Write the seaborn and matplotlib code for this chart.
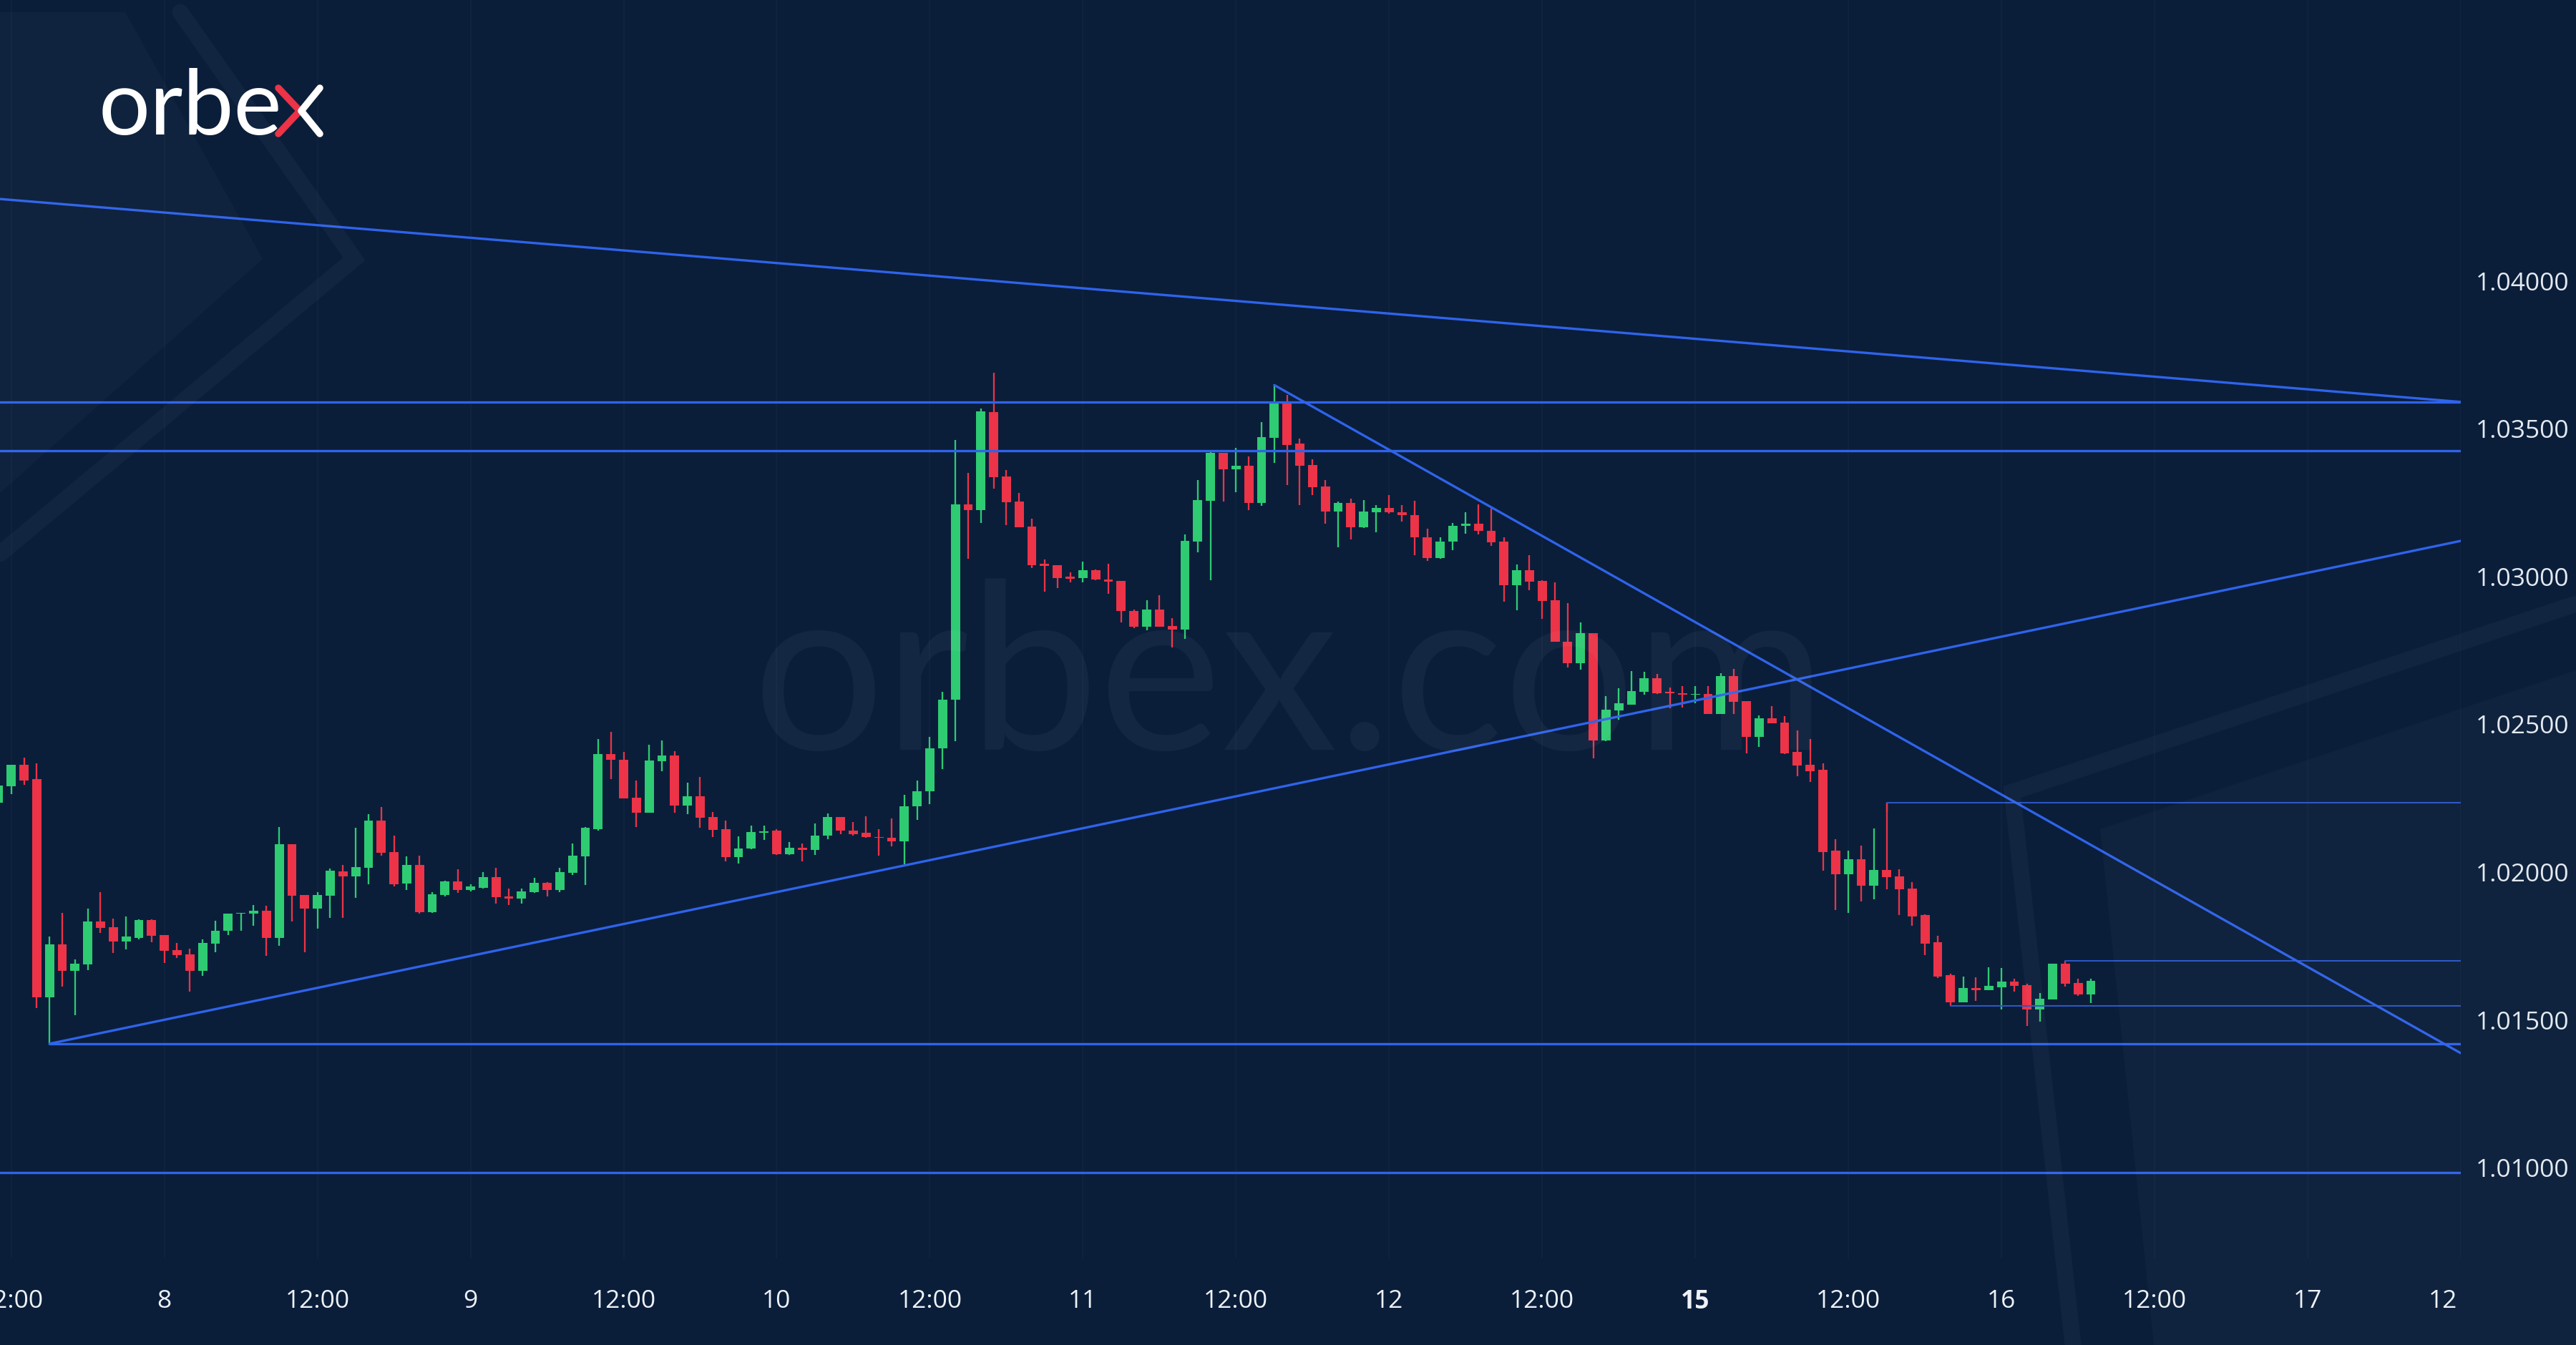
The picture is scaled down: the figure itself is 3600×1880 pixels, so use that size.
import numpy as np
import pandas as pd
import matplotlib
matplotlib.use('Agg')
import matplotlib.pyplot as plt
from matplotlib.patches import Polygon
from matplotlib.lines import Line2D
from matplotlib.ticker import FormatStrFormatter
from matplotlib.transforms import Bbox, TransformedBbox
import seaborn as sns

# hourly candles, hour 0 = day 8 00:00 (weekend skipped)
hours = list(range(-13, 152))
opens = [
    1.02232, 1.02288, 1.02361, 1.02312, 1.01574, 1.01752, 1.01663, 1.01685, 1.01830, 1.01812,
    1.01764, 1.01776, 1.01836, 1.01784, 1.01733, 1.01719, 1.01663, 1.01756, 1.01798, 1.01857,
    1.01856, 1.01866, 1.01776, 1.02093, 1.01919, 1.01874, 1.01917, 1.02000, 1.01984, 1.02012,
    1.02173, 1.02065, 1.01959, 1.02022, 1.01862, 1.01919, 1.01965, 1.01937, 1.01944, 1.01980,
    1.01915, 1.01909, 1.01931, 1.01961, 1.01937, 1.01994, 1.02050, 1.02143, 1.02397, 1.02378,
    1.02250, 1.02198, 1.02373, 1.02393, 1.02223, 1.02253, 1.02183, 1.02143, 1.02048, 1.02077,
    1.02131, 1.02137, 1.02059, 1.02079, 1.02073, 1.02120, 1.02183, 1.02139, 1.02131, 1.02117,
    1.02114, 1.02102, 1.02220, 1.02270, 1.02417, 1.02580, 1.03242, 1.03223, 1.03553, 1.03335,
    1.03250, 1.03167, 1.03040, 1.03036, 1.02996, 1.02993, 1.03020, 1.02988, 1.02982, 1.02882,
    1.02828, 1.02885, 1.02831, 1.02819, 1.03115, 1.03254, 1.03415, 1.03361, 1.03371, 1.03246,
    1.03467, 1.03591, 1.03446, 1.03375, 1.03303, 1.03217, 1.03246, 1.03163, 1.03214, 1.03230,
    1.03216, 1.03206, 1.03131, 1.03061, 1.03116, 1.03169, 1.03177, 1.03153, 1.03115, 1.02968,
    1.03020, 1.02982, 1.02917, 1.02778, 1.02705, 1.02806, 1.02444, 1.02545, 1.02565, 1.02607,
    1.02653, 1.02607, 1.02603, 1.02597, 1.02599, 1.02532, 1.02661, 1.02576, 1.02455, 1.02518,
    1.02504, 1.02403, 1.02361, 1.02343, 1.02069, 1.01990, 1.02040, 1.01951, 1.02006, 1.01984,
    1.01941, 1.01852, 1.01760, 1.01649, 1.01558, 1.01605, 1.01598, 1.01609, 1.01627, 1.01616,
    1.01534, 1.01566, 1.01687, 1.01622, 1.01584,
]
highs = [
    1.02319, 1.02361, 1.02385, 1.02365, 1.01780, 1.01859, 1.01703, 1.01873, 1.01929, 1.01840,
    1.01848, 1.01838, 1.01838, 1.01785, 1.01757, 1.01739, 1.01770, 1.01832, 1.01858, 1.01859,
    1.01887, 1.01885, 1.02151, 1.02093, 1.01919, 1.01929, 1.02010, 1.02022, 1.02147, 1.02194,
    1.02218, 1.02121, 1.02050, 1.02054, 1.01929, 1.01969, 1.02008, 1.01957, 1.01998, 1.02012,
    1.01941, 1.01941, 1.01977, 1.01963, 1.02012, 1.02094, 1.02151, 1.02447, 1.02472, 1.02405,
    1.02308, 1.02429, 1.02444, 1.02407, 1.02300, 1.02319, 1.02201, 1.02171, 1.02119, 1.02155,
    1.02154, 1.02143, 1.02099, 1.02094, 1.02162, 1.02195, 1.02183, 1.02166, 1.02187, 1.02143,
    1.02180, 1.02258, 1.02307, 1.02455, 1.02608, 1.03460, 1.03349, 1.03566, 1.03686, 1.03358,
    1.03280, 1.03193, 1.03055, 1.03036, 1.03011, 1.03049, 1.03022, 1.03040, 1.02982, 1.02885,
    1.02917, 1.02935, 1.02857, 1.03139, 1.03323, 1.03417, 1.03415, 1.03432, 1.03403, 1.03521,
    1.03645, 1.03611, 1.03463, 1.03395, 1.03323, 1.03250, 1.03262, 1.03256, 1.03240, 1.03274,
    1.03238, 1.03254, 1.03159, 1.03131, 1.03178, 1.03216, 1.03242, 1.03228, 1.03130, 1.03038,
    1.03070, 1.02986, 1.02978, 1.02907, 1.02843, 1.02806, 1.02593, 1.02619, 1.02678, 1.02675,
    1.02667, 1.02621, 1.02628, 1.02628, 1.02628, 1.02671, 1.02686, 1.02576, 1.02528, 1.02558,
    1.02526, 1.02476, 1.02447, 1.02365, 1.02110, 1.02069, 1.02086, 1.02144, 1.02232, 1.02008,
    1.01963, 1.01854, 1.01782, 1.01655, 1.01645, 1.01641, 1.01676, 1.01673, 1.01637, 1.01621,
    1.01588, 1.01687, 1.01697, 1.01636, 1.01636,
]
lows = [
    1.02223, 1.02262, 1.02292, 1.01538, 1.01417, 1.01610, 1.01514, 1.01667, 1.01792, 1.01723,
    1.01735, 1.01769, 1.01760, 1.01691, 1.01707, 1.01594, 1.01647, 1.01727, 1.01784, 1.01800,
    1.01816, 1.01714, 1.01749, 1.01831, 1.01727, 1.01806, 1.01842, 1.01842, 1.01910, 1.01956,
    1.02054, 1.01949, 1.01937, 1.01856, 1.01860, 1.01915, 1.01927, 1.01933, 1.01943, 1.01891,
    1.01887, 1.01891, 1.01928, 1.01915, 1.01931, 1.01988, 1.01955, 1.02137, 1.02312, 1.02248,
    1.02151, 1.02198, 1.02340, 1.02198, 1.02194, 1.02148, 1.02116, 1.02034, 1.02026, 1.02074,
    1.02106, 1.02056, 1.02055, 1.02033, 1.02056, 1.02110, 1.02127, 1.02120, 1.02114, 1.02053,
    1.02085, 1.02025, 1.02175, 1.02227, 1.02345, 1.02441, 1.03057, 1.03179, 1.03294, 1.03171,
    1.03165, 1.03026, 1.02947, 1.02959, 1.02978, 1.02978, 1.02984, 1.02938, 1.02841, 1.02822,
    1.02815, 1.02828, 1.02757, 1.02786, 1.03079, 1.02985, 1.03250, 1.03282, 1.03221, 1.03236,
    1.03383, 1.03307, 1.03240, 1.03272, 1.03175, 1.03096, 1.03123, 1.03161, 1.03146, 1.03210,
    1.03183, 1.03069, 1.03050, 1.03057, 1.03087, 1.03143, 1.03141, 1.03101, 1.02912, 1.02883,
    1.02951, 1.02854, 1.02776, 1.02690, 1.02683, 1.02383, 1.02441, 1.02512, 1.02565, 1.02597,
    1.02600, 1.02552, 1.02554, 1.02569, 1.02532, 1.02532, 1.02532, 1.02399, 1.02421, 1.02500,
    1.02397, 1.02323, 1.02303, 1.02002, 1.01870, 1.01859, 1.01898, 1.01905, 1.01939, 1.01852,
    1.01816, 1.01717, 1.01639, 1.01546, 1.01558, 1.01562, 1.01598, 1.01534, 1.01594, 1.01477,
    1.01491, 1.01566, 1.01610, 1.01578, 1.01554,
]
closes = [
    1.02290, 1.02361, 1.02308, 1.01574, 1.01752, 1.01663, 1.01687, 1.01830, 1.01810, 1.01764,
    1.01780, 1.01836, 1.01781, 1.01731, 1.01717, 1.01663, 1.01758, 1.01800, 1.01858, 1.01859,
    1.01866, 1.01776, 1.02093, 1.01917, 1.01874, 1.01919, 1.02002, 1.01984, 1.02015, 1.02173,
    1.02064, 1.01957, 1.02022, 1.01862, 1.01923, 1.01965, 1.01937, 1.01948, 1.01980, 1.01912,
    1.01909, 1.01933, 1.01961, 1.01937, 1.01998, 1.02054, 1.02147, 1.02397, 1.02377, 1.02248,
    1.02198, 1.02375, 1.02393, 1.02223, 1.02253, 1.02181, 1.02140, 1.02048, 1.02078, 1.02132,
    1.02136, 1.02059, 1.02079, 1.02073, 1.02122, 1.02183, 1.02137, 1.02127, 1.02117, 1.02113,
    1.02102, 1.02221, 1.02272, 1.02417, 1.02582, 1.03242, 1.03223, 1.03555, 1.03333, 1.03248,
    1.03165, 1.03037, 1.03034, 1.02993, 1.02991, 1.03020, 1.02988, 1.02981, 1.02880, 1.02828,
    1.02885, 1.02828, 1.02819, 1.03117, 1.03256, 1.03415, 1.03361, 1.03371, 1.03246, 1.03470,
    1.03591, 1.03443, 1.03371, 1.03300, 1.03217, 1.03246, 1.03163, 1.03217, 1.03230, 1.03214,
    1.03204, 1.03129, 1.03061, 1.03116, 1.03170, 1.03177, 1.03151, 1.03113, 1.02968, 1.03020,
    1.02979, 1.02915, 1.02776, 1.02705, 1.02806, 1.02444, 1.02546, 1.02569, 1.02611, 1.02653,
    1.02603, 1.02603, 1.02598, 1.02599, 1.02532, 1.02661, 1.02573, 1.02455, 1.02518, 1.02502,
    1.02399, 1.02358, 1.02340, 1.02066, 1.01990, 1.02040, 1.01951, 1.02006, 1.01981, 1.01939,
    1.01848, 1.01756, 1.01644, 1.01558, 1.01605, 1.01598, 1.01612, 1.01627, 1.01613, 1.01534,
    1.01570, 1.01687, 1.01620, 1.01584, 1.01629,
]

# drawn levels and trend lines (hour, price)
full_levels = [1.03588, 1.03422, 1.00982]
support_start, support_level = -9, 1.01417
short_levels = [(135, 1.02232), (140, 1.01546), (149, 1.01697)]
upper_trend_hours, upper_trend_prices = [-13, 180], [1.04275, 1.03588]
rising_trend_hours, rising_trend_prices = [-9, 180], [1.01417, 1.03118]
falling_trend_hours, falling_trend_prices = [87, 180], [1.03645, 1.01385]

tick_hours = [-12, 0, 12, 24, 36, 48, 60, 72, 84, 96, 108, 120, 132, 144, 156, 168, 180]
tick_labels = ['12:00', '8', '12:00', '9', '12:00', '10', '12:00', '11', '12:00', '12',
               '12:00', '15', '12:00', '16', '12:00', '17', '12:00']
price_ticks = [1.010, 1.015, 1.020, 1.025, 1.030, 1.035, 1.040]

BG = '#0a1e3a'
UP = '#2ecb72'
DOWN = '#ec3347'
LINE = '#2f63ea'
THIN = '#2b55c4'

sns.set_theme(style='dark', rc={'axes.facecolor': BG, 'figure.facecolor': BG,
                                'savefig.facecolor': BG})
plt.rcParams['font.family'] = ['Open Sans', 'DejaVu Sans']

df = pd.DataFrame({'hour': hours, 'open': opens, 'high': highs, 'low': lows, 'close': closes})
df['up'] = df['close'] >= df['open']
df['color'] = np.where(df['up'], UP, DOWN)
df['bottom'] = df[['open', 'close']].min(axis=1)
df['height'] = (df['close'] - df['open']).abs().clip(lower=0.000025)

W, H = 3600, 1881
fig = plt.figure(figsize=(12, 6.27), dpi=300)


def fpt(x, y):
    return (x / W, 1 - y / H)


# background decoration
deco = [
    [(0, 18), (175, 18), (367, 363), (0, 690)],
    [(2935, 1160), (3600, 938), (3600, 1881), (3010, 1881)],
]
for pts in deco:
    fig.patches.append(Polygon([fpt(*p) for p in pts], closed=True, transform=fig.transFigure,
                               facecolor='white', alpha=0.025, edgecolor='none', zorder=0))
for pts in [[(252, 18), (495, 363), (0, 775)], [(3600, 845), (2812, 1108), (2897, 1881)]]:
    xs, ys = zip(*[fpt(*p) for p in pts])
    fig.lines.append(Line2D(xs, ys, transform=fig.transFigure, color='white', alpha=0.03,
                            lw=5.5, solid_joinstyle='miter', zorder=0))

ax_right = 3439 / W
ax_bottom = (H - 1760) / H
ax = fig.add_axes([0, ax_bottom, ax_right, 1 - ax_bottom])
ax.patch.set_alpha(0)

# watermark
fig.text(1802 / W, (H - 1048) / H, 'orbex.com', ha='center', va='baseline',
         fontsize=78, color='white', alpha=0.045, family=['Lato', 'DejaVu Sans'],
         zorder=1)

# candles
ax.vlines(df['hour'], df['low'], df['high'], colors=df['color'], lw=0.55, zorder=3)
ax.bar(df['hour'], df['height'], bottom=df['bottom'], width=0.72, color=df['color'],
       linewidth=0, zorder=4)

# lines
for lv in full_levels:
    ax.axhline(lv, color=LINE, lw=0.8, zorder=5)
ax.plot([support_start, 180], [support_level, support_level], color=LINE, lw=0.8, zorder=5)
for h0, lv in short_levels:
    ax.plot([h0, 180], [lv, lv], color=THIN, lw=0.5, zorder=5)
ax.vlines(135, 1.02232 - 0.0003, 1.02232, color=DOWN, lw=0.55, zorder=3)
ax.plot(upper_trend_hours, upper_trend_prices, color=LINE, lw=0.8, zorder=5)
ax.plot(rising_trend_hours, rising_trend_prices, color=LINE, lw=0.8, zorder=5)
ax.plot(falling_trend_hours, falling_trend_prices, color=LINE, lw=0.8, zorder=5)

ax.set_xlim(-12.88, 180)
ax.set_ylim(1.006907, 1.049501)
ax.set_xticks(tick_hours)
ax.set_xticklabels(tick_labels)
ax.set_yticks(price_ticks)
ax.yaxis.set_major_formatter(FormatStrFormatter('%.5f'))
ax.yaxis.tick_right()
ax.tick_params(axis='x', length=0, pad=10, labelsize=8.5, labelcolor='#eef1f6')
ax.tick_params(axis='y', length=0, pad=5, labelsize=8.5, labelcolor='#e4e9f0')
for lab in ax.get_xticklabels():
    if lab.get_text() == '15':
        lab.set_fontweight('bold')
ax.grid(axis='x', color='white', alpha=0.025, lw=0.5)
ax.grid(axis='y', visible=False)
ax.set_xlabel('')
ax.set_ylabel('')
sns.despine(ax=ax, left=True, bottom=True, right=True, top=True)

clip = TransformedBbox(Bbox.from_extents(0, 0, 3435 / W, 1), fig.transFigure)
last = ax.xaxis.get_major_ticks()[-1].label1
last.set_clip_box(clip)
last.set_clip_on(True)

# logo
fig.text(138 / W, (H - 188) / H, 'orbe', ha='left', va='baseline', fontsize=30.5,
         color='white', family=['Lato', 'DejaVu Sans'])
rx, ry = zip(*[fpt(389, 124), fpt(419, 156), fpt(389, 188)])
fig.lines.append(Line2D(rx, ry, transform=fig.transFigure, color=DOWN, lw=2.3,
                        solid_capstyle='round'))
wx, wy = zip(*[fpt(447, 124), fpt(421, 156), fpt(447, 188)])
fig.lines.append(Line2D(wx, wy, transform=fig.transFigure, color='white', lw=2.3,
                        solid_capstyle='round'))

fig.savefig('out.png', dpi=300)
plt.close(fig)
